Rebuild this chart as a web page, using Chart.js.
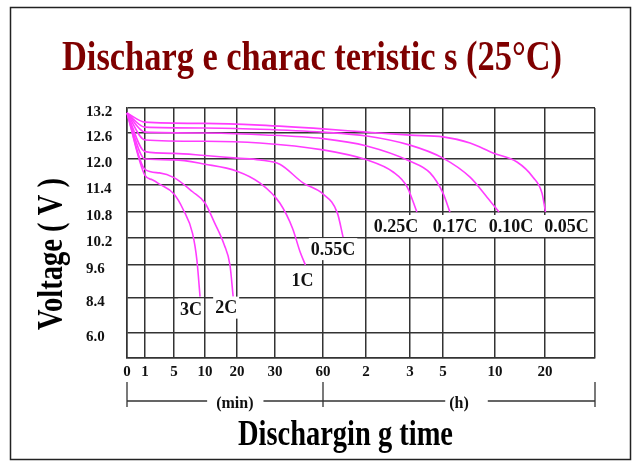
<!DOCTYPE html>
<html>
<head>
<meta charset="utf-8">
<script src="https://cdn.jsdelivr.net/npm/chart.js@4.4.0/dist/chart.umd.min.js"></script>
<style>
  html, body { margin: 0; padding: 0; background: #fff; }
  canvas { display: block; }
</style>
</head>
<body>
<canvas id="dischargeChart" width="638" height="464"></canvas>
<script>
// x axis: minutes up to 60, then hours (2 h = 120 min ...)
const timeStops = [0, 1, 5, 10, 20, 30, 60, 120, 180, 300, 600, 1200, 2400];
const timeLabels = ["0", "1", "5", "10", "20", "30", "60", "2", "3", "5", "10", "20", ""];
const voltStops = [4.8, 6.0, 8.4, 9.6, 10.2, 10.8, 11.4, 12.0, 12.6, 13.2];
const voltLabels = ["", "6.0", "8.4", "9.6", "10.2", "10.8", "11.4", "12.0", "12.6", "13.2"];

const rates = ["0.05C", "0.10C", "0.17C", "0.25C", "0.55C", "1C", "2C", "3C"];

// [minutes, volts]
const c005 = [[0,13.08],[1,12.86],[10,12.83],[26,12.79],[60,12.70],[121,12.62],[180,12.55],[300,12.51],[456,12.37],[588,12.14],[864,11.93],[1056,11.58],[1164,11.22],[1212,10.8]];
const c010 = [[0,13.08],[1,12.74],[10,12.72],[26,12.69],[60,12.62],[121,12.53],[180,12.32],[300,12.02],[456,11.58],[554,11.13],[648,10.8]];
const c017 = [[0,13.08],[1,12.62],[10,12.6],[26,12.56],[60,12.47],[121,12.3],[180,11.95],[253,11.68],[300,11.22],[340,10.8]];
const c025 = [[0,13.08],[1,12.44],[10,12.41],[26,12.37],[60,12.21],[121,11.98],[157,11.7],[176,11.36],[205,10.8]];
const c055 = [[0,13.08],[1,12.17],[5,12.13],[10,12.08],[20,12.02],[26,11.98],[33,11.88],[47.5,11.45],[60,11.2],[80,10.78],[88,10.22]];
const c1 = [[0,13.08],[1,12.0],[5,11.98],[10,11.88],[20,11.72],[26,11.45],[33,11.0],[41,10.42],[45.6,9.9],[49,9.6]];
const c2 = [[0,13.08],[1,11.76],[3,11.68],[5,11.57],[8,11.25],[10,11.0],[13,10.55],[16,10.05],[17.8,9.6],[18.8,8.45]];
const c3 = [[0,13.08],[1,11.62],[2,11.52],[3,11.42],[5,11.2],[6.5,10.85],[8,10.3],[8.7,9.7],[9.2,8.45]];
const curves = [c005, c010, c017, c025, c055, c1, c2, c3];

// layout: relative size of each grid cell (the chart grid is not uniform)
const xSpans = [18, 29, 31, 32, 38, 48, 43, 44, 33, 52, 50, 50];
const ySpans = [25, 35, 33, 27, 26, 27, 26, 26, 25];
// label offset from the end of each curve, px
const labelOffsets = [[21, 14], [12, 14], [5, 14], [-21, 14], [-10, 12], [-3, 15], [-7, 11], [-9, 13]];

const SERIF = '"Liberation Serif", "Times New Roman", serif';

// piecewise linear scale: each stop gets its own cell width
class StepScale extends Chart.LinearScale {
  determineDataLimits() {
    const s = this.options.stops;
    this.min = s[0];
    this.max = s[s.length - 1];
  }
  buildTicks() {
    return this.options.stops.map(v => ({ value: v }));
  }
  getPixelForValue(value) {
    const s = this.options.stops, w = this.options.spans;
    const total = w.reduce((a, b) => a + b, 0);
    let i = 0, acc = 0;
    while (i < w.length - 1 && value > s[i + 1]) { acc += w[i]; i++; }
    const f = (acc + w[i] * (value - s[i]) / (s[i + 1] - s[i])) / total;
    return this.getPixelForDecimal(f);
  }
  getValueForPixel(pixel) {
    const s = this.options.stops, w = this.options.spans;
    const total = w.reduce((a, b) => a + b, 0);
    let d = this.getDecimalForPixel(pixel) * total;
    let i = 0;
    while (i < w.length - 1 && d > w[i]) { d -= w[i]; i++; }
    return s[i] + (s[i + 1] - s[i]) * d / w[i];
  }
}
StepScale.id = 'step';
StepScale.defaults = {};
Chart.register(StepScale);

function fitText(ctx, text, x, y, size, width, color, rotate) {
  ctx.save();
  ctx.font = 'bold ' + size + 'px ' + SERIF;
  const w = ctx.measureText(text).width;
  ctx.translate(x, y);
  if (rotate) ctx.rotate(-Math.PI / 2);
  ctx.scale(width / w, 1);
  ctx.fillStyle = color;
  ctx.textAlign = 'center';
  ctx.textBaseline = 'alphabetic';
  ctx.fillText(text, 0, 0);
  ctx.restore();
}

function boxedText(ctx, text, cx, cy, size, padL, padR, boxH) {
  ctx.font = 'bold ' + size + 'px ' + SERIF;
  const w = ctx.measureText(text).width;
  ctx.fillStyle = '#fff';
  ctx.fillRect(cx - w / 2 - padL, cy - boxH / 2, w + padL + padR, boxH);
  ctx.fillStyle = '#111';
  ctx.textAlign = 'center';
  ctx.textBaseline = 'middle';
  ctx.fillText(text, cx, cy + 1);
}

const decorations = {
  id: 'decorations',
  beforeDraw(chart) {
    const ctx = chart.ctx;
    ctx.save();
    ctx.fillStyle = '#fff';
    ctx.fillRect(0, 0, chart.width, chart.height);
    ctx.restore();
  },
  afterDatasetsDraw(chart) {
    const ctx = chart.ctx;
    ctx.save();
    // curve labels
    chart.data.datasets.forEach((ds, i) => {
      const pts = chart.getDatasetMeta(i).data;
      const end = pts[pts.length - 1];
      const off = labelOffsets[i];
      boxedText(ctx, ds.label, end.x + off[0], end.y + off[1], 18, 2, 2, 22);
    });
    ctx.restore();
  },
  afterDraw(chart) {
    const ctx = chart.ctx;
    const xs = chart.scales.x;
    const x0 = xs.getPixelForValue(0);
    const x60 = xs.getPixelForValue(60);
    const xEnd = xs.getPixelForValue(timeStops[timeStops.length - 1]);
    ctx.save();
    // outer frame
    ctx.strokeStyle = '#222';
    ctx.lineWidth = 1.5;
    ctx.strokeRect(10.5, 7.5, 620, 452);
    // min / h bracket
    ctx.strokeStyle = '#333';
    ctx.lineWidth = 1.3;
    ctx.beginPath();
    ctx.moveTo(x0, 401); ctx.lineTo(xEnd, 401);
    [x0, x60, xEnd].forEach(x => { ctx.moveTo(x, 382); ctx.lineTo(x, 407); });
    ctx.stroke();
    boxedText(ctx, '(min)', x0 + 0.55 * (x60 - x0), 403, 16, 9, 10, 14);
    boxedText(ctx, '(h)', x60 + 0.5 * (xEnd - x60), 403, 16, 4, 19, 14);
    // titles
    fitText(ctx, 'Discharg e charac teristic s (25°C)', 312, 70, 42, 500, '#7f0000');
    fitText(ctx, 'Dischargin g time', 345.5, 445, 35, 215, '#000');
    fitText(ctx, 'Voltage ( V )', 62, 254, 36, 152, '#000', true);
    ctx.restore();
  }
};

new Chart(document.getElementById('dischargeChart'), {
  type: 'line',
  data: {
    datasets: curves.map((c, i) => ({
      label: rates[i],
      data: c.map(p => ({ x: p[0], y: p[1] })),
      borderColor: '#ff3cff',
      borderWidth: 1.6,
      pointRadius: 0,
      fill: false,
      cubicInterpolationMode: 'monotone'
    }))
  },
  plugins: [decorations],
  options: {
    responsive: false,
    animation: false,
    layout: { padding: { left: 86, right: 43, top: 108, bottom: 76 } },
    plugins: { legend: { display: false }, tooltip: { enabled: false }, title: { display: false } },
    scales: {
      x: {
        type: 'step',
        stops: timeStops,
        spans: xSpans,
        offset: false,
        afterFit: s => { s.height = 30; },
        grid: { color: '#333', lineWidth: 1.5, drawTicks: false },
        border: { color: '#333', width: 1.5 },
        ticks: {
          autoSkip: false, maxRotation: 0, padding: 5, color: '#111',
          font: { family: SERIF, size: 15, weight: 'bold' },
          callback: (v, i) => timeLabels[i]
        }
      },
      y: {
        type: 'step',
        stops: voltStops,
        spans: ySpans,
        afterFit: s => { s.width = 41; },
        grid: { color: '#333', lineWidth: 1.5, drawTicks: false },
        border: { color: '#333', width: 1.5 },
        ticks: {
          autoSkip: false, crossAlign: 'far', labelOffset: 4, color: '#111',
          font: { family: SERIF, size: 15, weight: 'bold' },
          callback: (v, i) => voltLabels[i]
        }
      }
    }
  }
});
</script>
</body>
</html>
